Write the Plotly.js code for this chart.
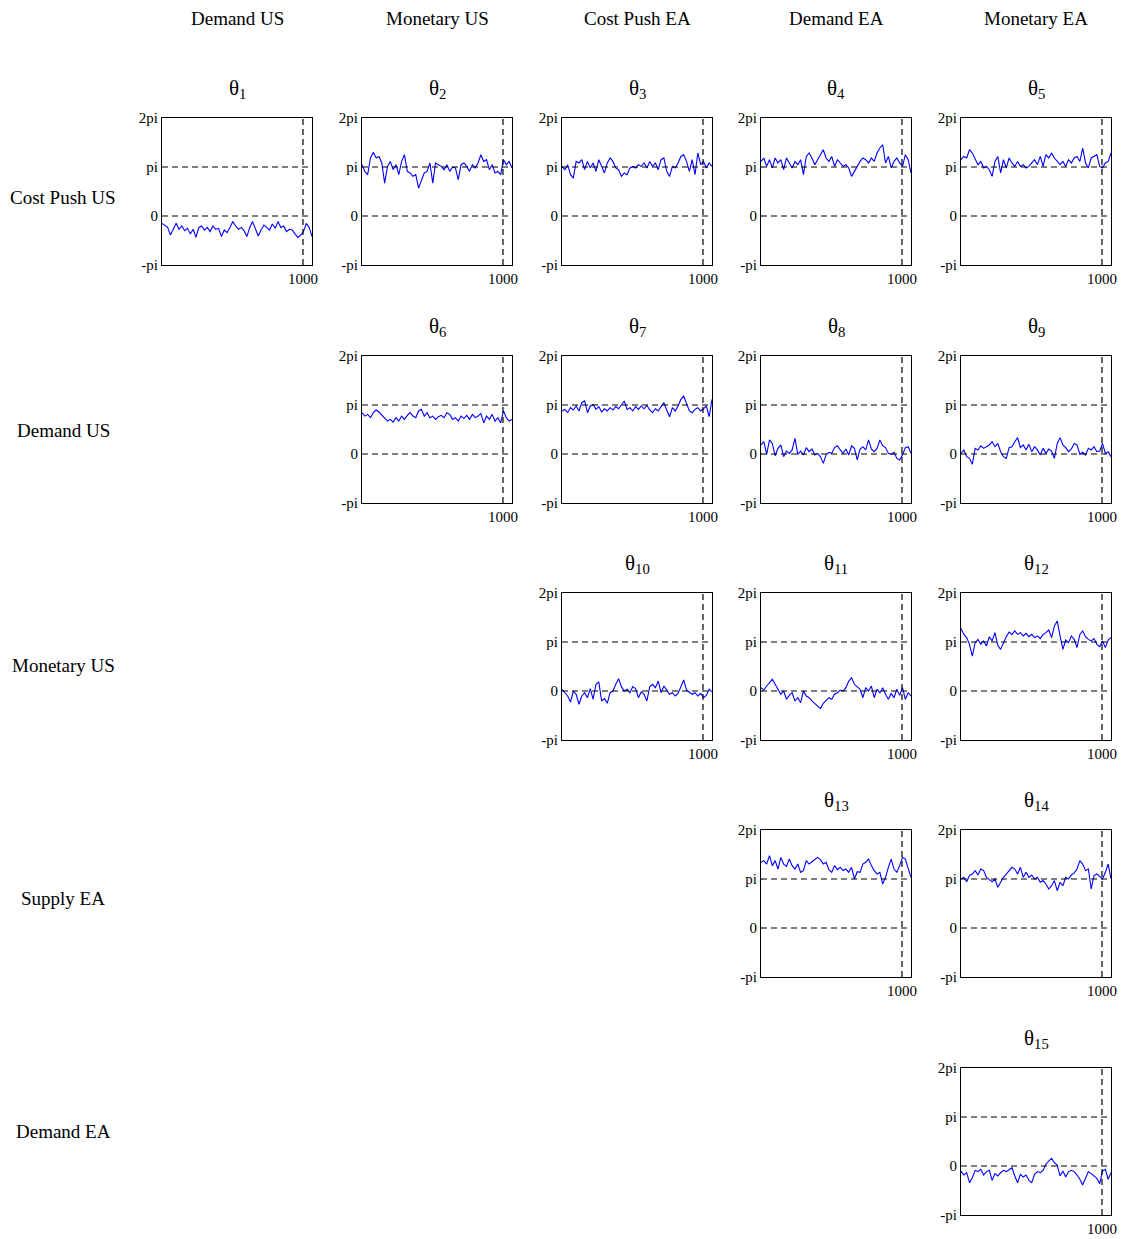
<!DOCTYPE html>
<html>
<head>
<meta charset="utf-8">
<script src="https://cdn.plot.ly/plotly-3.0.1.min.js"></script>
<style>html,body{margin:0;padding:0;background:#fff;}#chart{width:1130px;height:1239px;}</style>
</head>
<body>
<div id="chart"></div>
<script>
// ---- data (values in radians) ----
const columnLabels = ["Demand US", "Monetary US", "Cost Push EA", "Demand EA", "Monetary EA"];
const rowLabels = ["Cost Push US", "Demand US", "Monetary US", "Supply EA", "Demand EA"];
const yTickText = ["-pi", "0", "pi", "2pi"];
const xTickText = ["1000"];
const markerIteration = 1000;
const lastIteration = 1064;

const theta1 = [-0.47,-0.58,-0.73,-1.22,-0.85,-0.47,-0.85,-0.64,-0.94,-0.79,-1.15,-0.85,-1.37,-0.73,-0.64,-0.90,-0.73,-1.00,-0.64,-0.85,-0.79,-1.32,-0.90,-1.07,-0.73,-0.36,-0.64,-0.85,-0.73,-0.94,-1.32,-0.73,-0.36,-0.85,-1.28,-0.90,-0.58,-0.73,-0.90,-0.51,-0.79,-0.36,-0.73,-0.64,-1.00,-0.85,-0.90,-1.15,-1.37,-1.22,-1.00,-0.47,-0.73,-1.32];
const theta2 = [3.29,2.86,2.65,3.72,4.08,3.72,3.82,3.40,2.11,3.18,3.50,2.97,3.29,2.65,3.50,3.93,2.86,2.76,2.54,2.65,1.79,2.33,2.76,2.86,3.40,2.11,3.40,3.29,3.18,2.97,3.29,2.86,3.14,3.08,2.33,3.29,3.40,3.18,2.86,3.29,3.08,3.40,3.93,3.50,3.61,2.97,3.29,2.76,2.86,2.65,3.61,3.29,3.50,3.08];
const theta3 = [3.18,2.97,3.29,2.65,2.43,3.50,3.40,3.61,2.97,3.50,3.08,3.40,2.86,3.61,3.18,2.76,3.40,3.72,3.50,3.08,2.97,2.54,2.76,2.65,3.08,3.18,3.08,3.29,3.18,3.40,3.08,3.50,3.18,3.40,2.97,3.61,3.72,2.86,2.54,3.18,3.08,3.40,3.82,3.93,3.50,2.86,3.61,2.65,4.04,3.29,3.50,3.08,3.40,3.18];
const theta4 = [3.50,3.72,3.18,3.61,3.08,3.72,3.40,3.61,2.97,3.72,3.40,3.08,3.50,3.29,3.61,2.65,3.82,4.04,3.72,3.29,3.61,3.93,4.25,3.72,3.50,3.82,3.18,3.61,3.40,3.18,3.29,3.08,2.54,2.86,3.18,3.50,3.72,3.61,3.40,3.72,3.50,4.04,4.36,4.57,3.40,3.82,3.08,3.50,3.72,3.40,3.18,3.93,3.61,2.76];
const theta5 = [3.61,3.82,3.72,4.25,4.04,3.61,3.29,3.50,3.08,3.18,2.97,2.54,3.50,3.82,2.76,3.61,3.08,3.72,3.40,3.18,3.50,3.18,3.29,3.08,3.18,3.40,3.61,3.29,3.82,3.18,3.93,3.72,4.04,3.72,3.50,3.29,3.50,3.18,3.61,3.40,3.72,3.82,3.50,4.36,3.40,3.08,3.72,3.82,3.93,3.18,3.08,3.40,3.50,4.04];
const theta6 = [2.65,2.43,2.54,2.33,2.65,2.82,2.69,2.48,2.33,2.11,2.22,2.05,2.33,2.11,2.43,2.22,2.48,2.65,2.43,2.33,2.76,2.86,2.43,2.65,2.33,2.43,2.22,2.39,2.48,2.33,2.65,2.54,2.22,2.33,2.11,2.43,2.27,2.48,2.22,2.54,2.33,2.43,2.60,1.99,2.43,2.22,2.54,2.11,2.33,1.99,2.76,2.33,2.11,2.22];
const theta7 = [2.76,2.86,2.65,2.97,2.82,3.08,2.76,3.29,3.40,2.65,3.08,3.18,2.86,3.04,2.69,2.90,2.76,2.97,2.82,3.04,2.90,3.12,3.40,2.86,2.97,2.76,3.04,2.86,3.08,2.90,3.12,2.82,2.65,2.90,2.76,3.04,3.29,2.82,2.39,2.97,2.76,3.08,3.50,3.72,3.18,2.76,2.65,2.86,2.97,2.76,2.90,3.08,2.39,3.50];
const theta8 = [0.58,0.79,-0.02,0.90,0.68,-0.11,0.36,0.58,-0.17,0.19,0.04,0.26,1.00,-0.02,0.19,-0.06,0.41,0.15,0.32,-0.06,0.04,-0.17,-0.60,-0.06,0.11,0.04,0.41,0.53,0.26,0.04,0.32,-0.06,0.53,0.36,-0.38,0.32,0.47,0.26,0.90,0.32,0.15,0.36,0.90,0.53,0.41,0.04,-0.02,0.11,-0.28,-0.38,-0.06,0.41,0.47,0.04];
const theta9 = [0.04,0.26,-0.17,-0.28,-0.66,0.36,0.26,0.53,0.36,0.47,0.58,0.79,0.47,0.68,0.15,-0.17,-0.28,0.41,0.47,0.79,1.05,0.41,0.58,0.26,0.62,0.15,0.47,0.26,-0.06,0.36,0.04,0.32,0.19,-0.28,0.68,1.05,0.58,0.41,0.15,0.32,0.68,0.58,-0.02,0.11,-0.06,0.36,0.26,0.47,0.15,0.19,0.68,0.04,0.15,-0.17];
const theta10 = [0.11,-0.11,-0.32,-0.71,0.00,-0.21,-0.85,-0.32,-0.11,-0.43,0.15,-0.53,0.43,0.58,-0.64,-0.49,-0.79,-0.11,0.00,0.43,0.79,0.28,0.00,0.11,-0.11,0.28,0.15,-0.43,-0.06,-0.21,-0.64,0.28,0.43,0.21,0.64,-0.11,0.32,0.06,-0.21,-0.11,-0.32,-0.15,0.32,0.71,0.06,-0.06,-0.21,-0.11,-0.32,-0.15,-0.43,-0.28,0.11,-0.06];
const theta11 = [0.21,0.06,0.32,0.53,0.75,0.43,0.15,-0.21,0.00,-0.53,-0.28,-0.11,-0.64,-0.43,-0.75,0.00,-0.32,-0.43,-0.64,-0.79,-0.96,-1.13,-0.79,-0.64,-0.43,-0.53,-0.21,-0.11,0.06,0.00,0.21,0.64,0.85,0.43,0.28,0.11,-0.43,0.21,0.00,0.32,-0.43,0.11,-0.11,0.21,-0.21,-0.53,-0.15,-0.43,0.11,-0.28,0.21,-0.53,-0.11,-0.32];
const theta12 = [4.00,3.63,3.42,2.99,2.24,3.10,3.31,2.99,3.21,2.88,3.48,3.21,3.74,2.93,2.67,3.14,3.48,3.78,3.63,3.85,3.63,3.74,3.53,3.70,3.48,3.63,3.42,3.53,3.36,3.63,3.74,3.91,3.42,4.17,4.49,3.53,2.67,3.27,3.10,3.53,3.31,2.78,3.63,3.85,3.48,3.31,3.21,3.36,2.99,2.84,3.21,2.78,3.27,3.42];
const theta13 = [4.21,4.32,4.10,4.64,4.00,4.32,3.78,4.53,4.10,3.95,4.42,4.00,3.78,4.10,3.57,3.68,4.32,4.10,4.25,4.42,4.53,4.38,4.10,4.21,3.74,3.57,4.00,3.74,3.89,3.68,3.78,3.57,3.89,3.14,3.61,3.57,4.10,4.21,4.42,4.00,3.68,3.46,3.57,2.82,3.25,3.89,4.42,3.78,3.57,4.00,4.53,4.42,3.89,3.25];
const theta14 = [3.14,3.25,2.97,3.36,3.46,3.68,3.40,3.78,3.68,3.25,3.10,2.97,3.14,2.61,2.93,3.25,3.46,3.68,3.89,3.78,3.46,3.89,3.25,3.57,3.25,3.40,3.14,3.25,2.93,3.04,2.82,2.50,2.71,3.04,2.39,2.93,2.71,3.25,3.14,3.40,3.53,3.78,4.32,4.10,3.68,3.78,2.50,3.36,3.46,3.31,3.14,3.57,4.10,3.14];
const theta15 = [-0.32,-0.58,-0.43,-1.07,-0.75,-0.28,-0.36,-0.21,-0.58,-0.36,-0.28,-0.92,-0.49,-0.64,-0.43,-0.28,-0.36,-0.21,-0.11,-0.64,-1.07,-0.53,-0.71,-0.58,-0.92,-1.07,-0.53,-0.36,-0.43,-0.28,0.11,0.32,0.49,0.21,0.06,-0.64,-0.32,-0.71,-0.36,-0.28,-0.36,-0.58,-0.85,-1.22,-0.75,-0.36,-0.49,-0.64,-0.79,-1.13,-0.32,-0.21,-0.85,-0.43];

const series = [theta1,theta2,theta3,theta4,theta5,theta6,theta7,theta8,theta9,theta10,theta11,theta12,theta13,theta14,theta15];

// ---- layout geometry (pixels) ----
const W = 1130, H = 1239;
const colLeft = [162, 362, 562, 761, 961];
const rowTop = [118, 356, 593, 830, 1068];
const panelW = 150, panelH = 147;
const rowLabelY = [197, 430, 665, 898, 1131];
const FONT = "Liberation Serif, Times New Roman, serif";

const PI = Math.PI;
const yTickVals = [-PI, 0, PI, 2 * PI];
const refLevels = [0, PI];

const data = [];
const layout = {
  width: W, height: H,
  margin: {l: 0, r: 0, t: 0, b: 0},
  paper_bgcolor: "#fff", plot_bgcolor: "#fff",
  showlegend: false,
  font: {family: FONT, color: "#000", size: 15},
  annotations: [], shapes: []
};

let k = 0;
for (let r = 0; r < 5; r++) {
  for (let c = r; c < 5; c++) {
    const vals = series[k];
    const n = vals.length;
    const xs = vals.map((_, i) => i * lastIteration / (n - 1));
    const id = k + 1;
    const xa = "x" + id, ya = "y" + id;
    data.push({x: xs, y: vals, type: "scatter", mode: "lines",
      xaxis: xa, yaxis: ya, line: {color: "#0000ff", width: 1.1}, hoverinfo: "skip"});
    const x0 = colLeft[c] / W, x1 = (colLeft[c] + panelW) / W;
    const y1 = 1 - rowTop[r] / H, y0 = 1 - (rowTop[r] + panelH) / H;
    layout["xaxis" + id] = {domain: [x0, x1], anchor: ya, range: [0, lastIteration],
      showgrid: false, zeroline: false, showline: true, linecolor: "#000", linewidth: 1,
      mirror: true, ticks: "", tickvals: [markerIteration], ticktext: xTickText,
      tickfont: {family: FONT, size: 15, color: "#000"}, fixedrange: true};
    layout["yaxis" + id] = {domain: [y0, y1], anchor: xa, range: [-PI, 2 * PI],
      showgrid: false, zeroline: false, showline: true, linecolor: "#000", linewidth: 1,
      mirror: true, ticks: "", tickvals: yTickVals, ticktext: yTickText,
      tickfont: {family: FONT, size: 15, color: "#000"}, fixedrange: true};
    refLevels.forEach(v => layout.shapes.push({type: "line", xref: xa + " domain", x0: 0, x1: 1,
      yref: ya, y0: v, y1: v, line: {color: "#000", width: 1.2, dash: "6px,4px"}}));
    layout.shapes.push({type: "line", xref: xa, x0: markerIteration, x1: markerIteration,
      yref: ya + " domain", y0: 0, y1: 1, line: {color: "#000", width: 1.2, dash: "6px,4px"}});
    layout.annotations.push({text: "θ<sub>" + id + "</sub>", xref: "paper", yref: "paper",
      x: (x0 + x1) / 2, y: y1 + 14 / H, xanchor: "center", yanchor: "bottom", showarrow: false,
      font: {family: FONT, size: 21, color: "#000"}});
    k++;
  }
}
columnLabels.forEach((t, c) => layout.annotations.push({text: t, xref: "paper", yref: "paper",
  x: (colLeft[c] + panelW / 2) / W, y: 1 - 18 / H, xanchor: "center", yanchor: "middle",
  showarrow: false, font: {family: FONT, size: 19, color: "#000"}}));
rowLabels.forEach((t, r) => layout.annotations.push({text: t, xref: "paper", yref: "paper",
  x: 63 / W, y: 1 - rowLabelY[r] / H, xanchor: "center", yanchor: "middle",
  showarrow: false, font: {family: FONT, size: 19, color: "#000"}}));

Plotly.newPlot("chart", data, layout, {displayModeBar: false, staticPlot: true});
</script>
</body>
</html>
